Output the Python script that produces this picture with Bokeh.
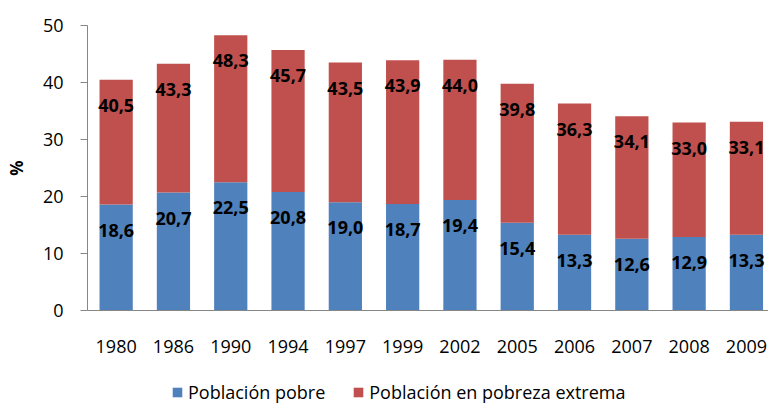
from bokeh.plotting import figure
from bokeh.models import ColumnDataSource, Legend, LegendItem, Range1d, FixedTicker
from bokeh.layouts import column
from bokeh.core.properties import value
from bokeh.embed import file_html
from bokeh.resources import INLINE

years = ["1980", "1986", "1990", "1994", "1997", "1999", "2002", "2005", "2006", "2007", "2008", "2009"]
pobre = [18.6, 20.7, 22.5, 20.8, 19.0, 18.7, 19.4, 15.4, 13.3, 12.6, 12.9, 13.3]
total = [40.5, 43.3, 48.3, 45.7, 43.5, 43.9, 44.0, 39.8, 36.3, 34.1, 33.0, 33.1]
series_names = ["Población pobre", "Población en pobreza extrema"]
yticks = [0, 10, 20, 30, 40, 50]

BLUE = "#4F81BD"
RED = "#C0504D"
GRAY = "#868686"
FONT = "Open Sans"
LABEL_OFFSET = 4.5

idx = list(range(len(years)))
src = ColumnDataSource(dict(
    x=idx,
    pobre=pobre,
    total=total,
    pobre_lbl=[f"{v:.1f}".replace(".", ",") for v in pobre],
    total_lbl=[f"{v:.1f}".replace(".", ",") for v in total],
    pobre_y=[v - LABEL_OFFSET for v in pobre],
    total_y=[v - LABEL_OFFSET for v in total],
))

p = figure(width=768, height=370, x_range=Range1d(-0.5, 11.385),
           y_range=(0, 50), output_backend="svg", toolbar_location=None,
           min_border_left=87, min_border_right=0, min_border_top=25, min_border_bottom=60)
p.outline_line_color = None
p.xgrid.grid_line_color = None
p.ygrid.grid_line_color = None

p.vbar(x="x", bottom=0, top="pobre", width=0.58, source=src,
       fill_color=BLUE, line_color=None)
p.vbar(x="x", bottom="pobre", top="total", width=0.58, source=src,
       fill_color=RED, line_color=None)

p.text(x="x", y="pobre_y", text="pobre_lbl", source=src, text_align="center",
       text_baseline="middle", text_font=value(FONT), text_font_size="18px",
       text_font_style="bold", text_color="black")
p.text(x="x", y="total_y", text="total_lbl", source=src, text_align="center",
       text_baseline="middle", text_font=value(FONT), text_font_size="18px",
       text_font_style="bold", text_color="black")

p.yaxis.ticker = yticks
p.yaxis.axis_line_color = GRAY
p.yaxis.major_tick_line_color = GRAY
p.yaxis.major_tick_out = 7
p.yaxis.major_tick_in = 0
p.yaxis.minor_tick_line_color = None
p.yaxis.major_label_text_font = FONT
p.yaxis.major_label_text_font_size = "18px"
p.yaxis.major_label_text_color = "black"
p.yaxis.major_label_standoff = 17
p.yaxis.axis_label = "%"
p.yaxis.axis_label_text_font = FONT
p.yaxis.axis_label_text_font_size = "17px"
p.yaxis.axis_label_text_font_style = "bold"
p.yaxis.axis_label_text_color = "black"
p.yaxis.axis_label_standoff = 12

p.xaxis.ticker = FixedTicker(ticks=idx, minor_ticks=[])
p.xaxis.major_label_overrides = {i: y for i, y in zip(idx, years)}
p.xaxis.axis_line_color = GRAY
p.xaxis.major_tick_line_color = None
p.xaxis.minor_tick_line_color = None
p.xaxis.major_tick_out = 0
p.xaxis.major_label_text_font = FONT
p.xaxis.major_label_text_font_size = "18px"
p.xaxis.major_label_text_color = "black"
p.xaxis.major_label_standoff = 29

# legend strip
lg = figure(width=768, height=34, x_range=Range1d(0, 1), y_range=Range1d(0, 1),
            output_backend="svg", toolbar_location=None, x_axis_type=None, y_axis_type=None,
            min_border_left=0, min_border_right=0, min_border_top=0, min_border_bottom=0)
lg.outline_line_color = None
lg.xgrid.grid_line_color = None
lg.ygrid.grid_line_color = None
rb = lg.vbar(x=[5], top=[5], width=0.1, fill_color=BLUE, line_color=None)
rr = lg.vbar(x=[5], top=[5], width=0.1, fill_color=RED, line_color=None)

legend = Legend(items=[LegendItem(label=series_names[0], renderers=[rb]),
                       LegendItem(label=series_names[1], renderers=[rr])],
                orientation="horizontal", location=(84, 0),
                border_line_color=None, background_fill_alpha=0,
                padding=0, margin=0, spacing=27, glyph_width=12, glyph_height=12,
                label_text_font=FONT, label_text_font_size="18px",
                label_text_color="black", label_standoff=5, label_height=18)
lg.add_layout(legend, "center")

layout = column(p, lg, spacing=0)
open("out.html", "w").write(file_html(layout, INLINE))
